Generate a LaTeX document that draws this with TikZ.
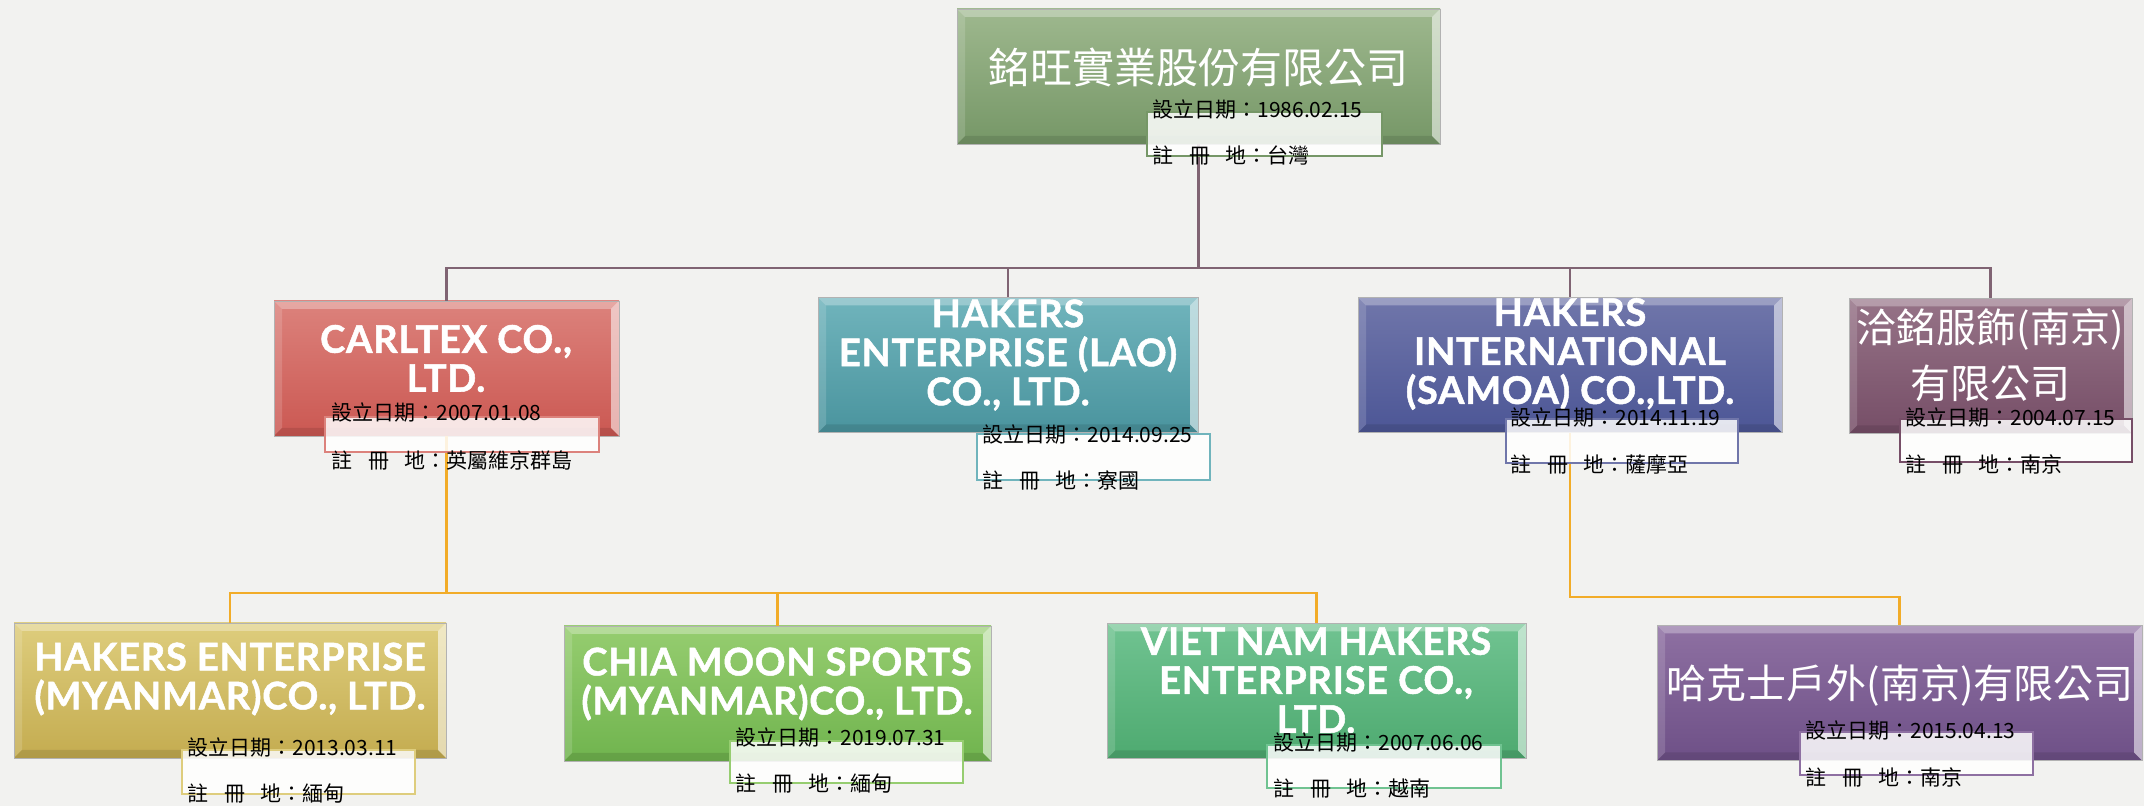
\documentclass[tikz,border=0pt]{standalone}
\usepackage{fontspec}
\newfontfamily\cjk{Noto Sans CJK TC}
\newfontfamily\latin[LetterSpace=2, BoldFeatures={FakeBold=1.3}]{Lato}
\tikzset{
  company/.style={rectangle, draw=black!30, line width=0.4pt, minimum height=67.5pt, inner sep=0pt,
    path picture={
      \path (path picture bounding box.north west) coordinate (bnw)
            (path picture bounding box.north east) coordinate (bne)
            (path picture bounding box.south west) coordinate (bsw)
            (path picture bounding box.south east) coordinate (bse);
      \fill[white,opacity=0.3] (bnw) -- (bne) -- ([shift={(-4pt,-4pt)}]bne) -- ([shift={(4pt,-4pt)}]bnw) -- cycle;
      \fill[white,opacity=0.15] (bnw) -- (bsw) -- ([shift={(4pt,4pt)}]bsw) -- ([shift={(4pt,-4pt)}]bnw) -- cycle;
      \fill[black,opacity=0.1] (bsw) -- (bse) -- ([shift={(-4pt,4pt)}]bse) -- ([shift={(4pt,4pt)}]bsw) -- cycle;
      \fill[white,opacity=0.55] (bne) -- (bse) -- ([shift={(-4pt,4pt)}]bse) -- ([shift={(-4pt,-4pt)}]bne) -- cycle;
    }},
  title/.style={text=white, align=center, inner sep=0pt, font=\latin\bfseries\fontsize{19}{19.5}\selectfont},
  cjktitle/.style={text=white, align=center, inner sep=0pt, font=\cjk\fontsize{20}{28}\selectfont},
  infobox/.style={rectangle, draw=#1, line width=0.8pt, fill=white, fill opacity=0.85, inner sep=0pt, minimum width=116.5pt, minimum height=22pt},
  info/.style={anchor=west, inner sep=0pt, font=\cjk\fontsize{10.5}{12}\selectfont},
  link/.style={draw=linkmauve, line width=1.3pt},
  sublink/.style={draw=linkgold, line width=1.3pt}
}
\begin{document}
\begin{tikzpicture}[x=0.5pt, y=-0.5pt]
	\definecolor{bgcolor}{RGB}{242,242,240}
	\definecolor{linkmauve}{RGB}{128,100,115}
	\definecolor{linkgold}{RGB}{242,172,40}
	\definecolor{roottop}{RGB}{158,184,142}
	\definecolor{rootbot}{RGB}{118,151,103}
	\definecolor{redtop}{RGB}{220,130,124}
	\definecolor{redbot}{RGB}{203,88,82}
	\definecolor{tealtop}{RGB}{112,180,188}
	\definecolor{tealbot}{RGB}{74,148,158}
	\definecolor{bluetop}{RGB}{112,118,170}
	\definecolor{bluebot}{RGB}{76,86,150}
	\definecolor{mauvetop}{RGB}{150,115,135}
	\definecolor{mauvebot}{RGB}{118,78,103}
	\definecolor{goldtop}{RGB}{222,205,125}
	\definecolor{goldbot}{RGB}{196,172,80}
	\definecolor{limetop}{RGB}{150,205,112}
	\definecolor{limebot}{RGB}{112,180,78}
	\definecolor{jadetop}{RGB}{112,195,145}
	\definecolor{jadebot}{RGB}{78,170,112}
	\definecolor{violettop}{RGB}{142,112,162}
	\definecolor{violetbot}{RGB}{110,80,135}

	\useasboundingbox (0,0) rectangle (2144,806);
	\fill[bgcolor] (0,0) rectangle (2144,806);

	% boxes
	\node[company, minimum width=241.5pt, top color=roottop, bottom color=rootbot] (root) at (1198.5,76.5) {};
	\node[company, minimum width=172.5pt, top color=redtop, bottom color=redbot] (carltex) at (446.5,368.5) {};
	\node[company, minimum width=190pt, top color=tealtop, bottom color=tealbot] (lao) at (1008,365) {};
	\node[company, minimum width=212pt, top color=bluetop, bottom color=bluebot] (samoa) at (1570,365) {};
	\node[company, minimum width=141.5pt, top color=mauvetop, bottom color=mauvebot] (nanjing) at (1990.5,366) {};
	\node[company, minimum width=216pt, top color=goldtop, bottom color=goldbot] (myanmar) at (230,690.5) {};
	\node[company, minimum width=213.5pt, top color=limetop, bottom color=limebot] (chiamoon) at (777.5,693.5) {};
	\node[company, minimum width=209.5pt, top color=jadetop, bottom color=jadebot] (vietnam) at (1316.5,691) {};
	\node[company, minimum width=242.5pt, top color=violettop, bottom color=violetbot] (outdoor) at (1899.5,693) {};

	% connectors
	\coordinate (rootbus) at (1198.5,268);
	\draw[link] (root.south) -- (rootbus);
	\draw[link] (rootbus) -| (carltex.north);
	\draw[link] (rootbus) -| (lao.north);
	\draw[link] (rootbus) -| (samoa.north);
	\draw[link] (rootbus) -| (nanjing.north);
	\coordinate (carltexbus) at (446.5,593);
	\draw[sublink] (carltex.south) -- (carltexbus);
	\draw[sublink] (carltexbus) -| (myanmar.north);
	\draw[sublink] (carltexbus) -| (chiamoon.north);
	\draw[sublink] (carltexbus) -| (vietnam.north);
	\coordinate (samoabus) at (1570,597);
	\draw[sublink] (samoa.south) -- (samoabus) -| (outdoor.north);

	% titles
	\node[cjktitle, font=\cjk\fontsize{21}{28}\selectfont] (root-t) at (1198,67) {銘旺實業股份有限公司};
	\node[title] (carltex-t) at (446,358.5) {CARLTEX CO.,\\LTD.};
	\node[title] (lao-t) at (1008,355) {HAKERS\\ENTERPRISE (LAO)\\CO., LTD.};
	\node[title] (samoa-t) at (1570,354) {HAKERS\\INTERNATIONAL\\(SAMOA) CO.,LTD.};
	\node[cjktitle] (nanjing-t) at (1990,355) {洽銘服飾(南京)\\有限公司};
	\node[title] (myanmar-t) at (230,679) {HAKERS ENTERPRISE\\(MYANMAR)CO., LTD.};
	\node[title] (chiamoon-t) at (777,684) {CHIA MOON SPORTS\\(MYANMAR)CO., LTD.};
	\node[title] (vietnam-t) at (1316,680) {VIET NAM HAKERS\\ENTERPRISE CO.,\\LTD.};
	\node[cjktitle] (outdoor-t) at (1900,685) {哈克士戶外(南京)有限公司};

	% info boxes
	\node[infobox=rootbot, minimum width=117.5pt] (root-i) at (1264.5,134) {};
	\node[infobox=redtop, minimum width=137pt, minimum height=17.5pt] (carltex-i) at (462,434.5) {};
	\node[infobox=tealtop, minimum height=23pt] (lao-i) at (1093.5,457) {};
	\node[infobox=bluetop, minimum width=116pt] (samoa-i) at (1622,441) {};
	\node[infobox=mauvebot, minimum width=116pt, minimum height=21.5pt] (nanjing-i) at (2016,440.5) {};
	\node[infobox=goldtop] (myanmar-i) at (298.5,772) {};
	\node[infobox=limetop, minimum height=21pt] (chiamoon-i) at (846.5,762) {};
	\node[infobox=jadetop, minimum width=117pt, minimum height=21.5pt] (vietnam-i) at (1384,766.5) {};
	\node[infobox=violettop, minimum height=21.5pt] (outdoor-i) at (1916.5,753.5) {};

	% info texts
	\node[info] (root-d) at (1152,110) {設立日期：1986.02.15};
	\node[info] (root-r) at (1152,156) {註\hspace{.75em}冊\hspace{.75em}地：台灣};
	\node[info] (carltex-d) at (331,413) {設立日期：2007.01.08};
	\node[info] (carltex-r) at (331,460) {註\hspace{.75em}冊\hspace{.75em}地：英屬維京群島};
	\node[info] (lao-d) at (982,435) {設立日期：2014.09.25};
	\node[info] (lao-r) at (982,480) {註\hspace{.75em}冊\hspace{.75em}地：寮國};
	\node[info] (samoa-d) at (1510,418) {設立日期：2014.11.19};
	\node[info] (samoa-r) at (1510,464) {註\hspace{.75em}冊\hspace{.75em}地：薩摩亞};
	\node[info] (nanjing-d) at (1905,418) {設立日期：2004.07.15};
	\node[info] (nanjing-r) at (1905,464) {註\hspace{.75em}冊\hspace{.75em}地：南京};
	\node[info] (myanmar-d) at (187,748) {設立日期：2013.03.11};
	\node[info] (myanmar-r) at (187,794) {註\hspace{.75em}冊\hspace{.75em}地：緬甸};
	\node[info] (chiamoon-d) at (735,738) {設立日期：2019.07.31};
	\node[info] (chiamoon-r) at (735,784) {註\hspace{.75em}冊\hspace{.75em}地：緬甸};
	\node[info] (vietnam-d) at (1273,743) {設立日期：2007.06.06};
	\node[info] (vietnam-r) at (1273,789) {註\hspace{.75em}冊\hspace{.75em}地：越南};
	\node[info] (outdoor-d) at (1805,731) {設立日期：2015.04.13};
	\node[info] (outdoor-r) at (1805,777) {註\hspace{.75em}冊\hspace{.75em}地：南京};
\end{tikzpicture}
\end{document}
